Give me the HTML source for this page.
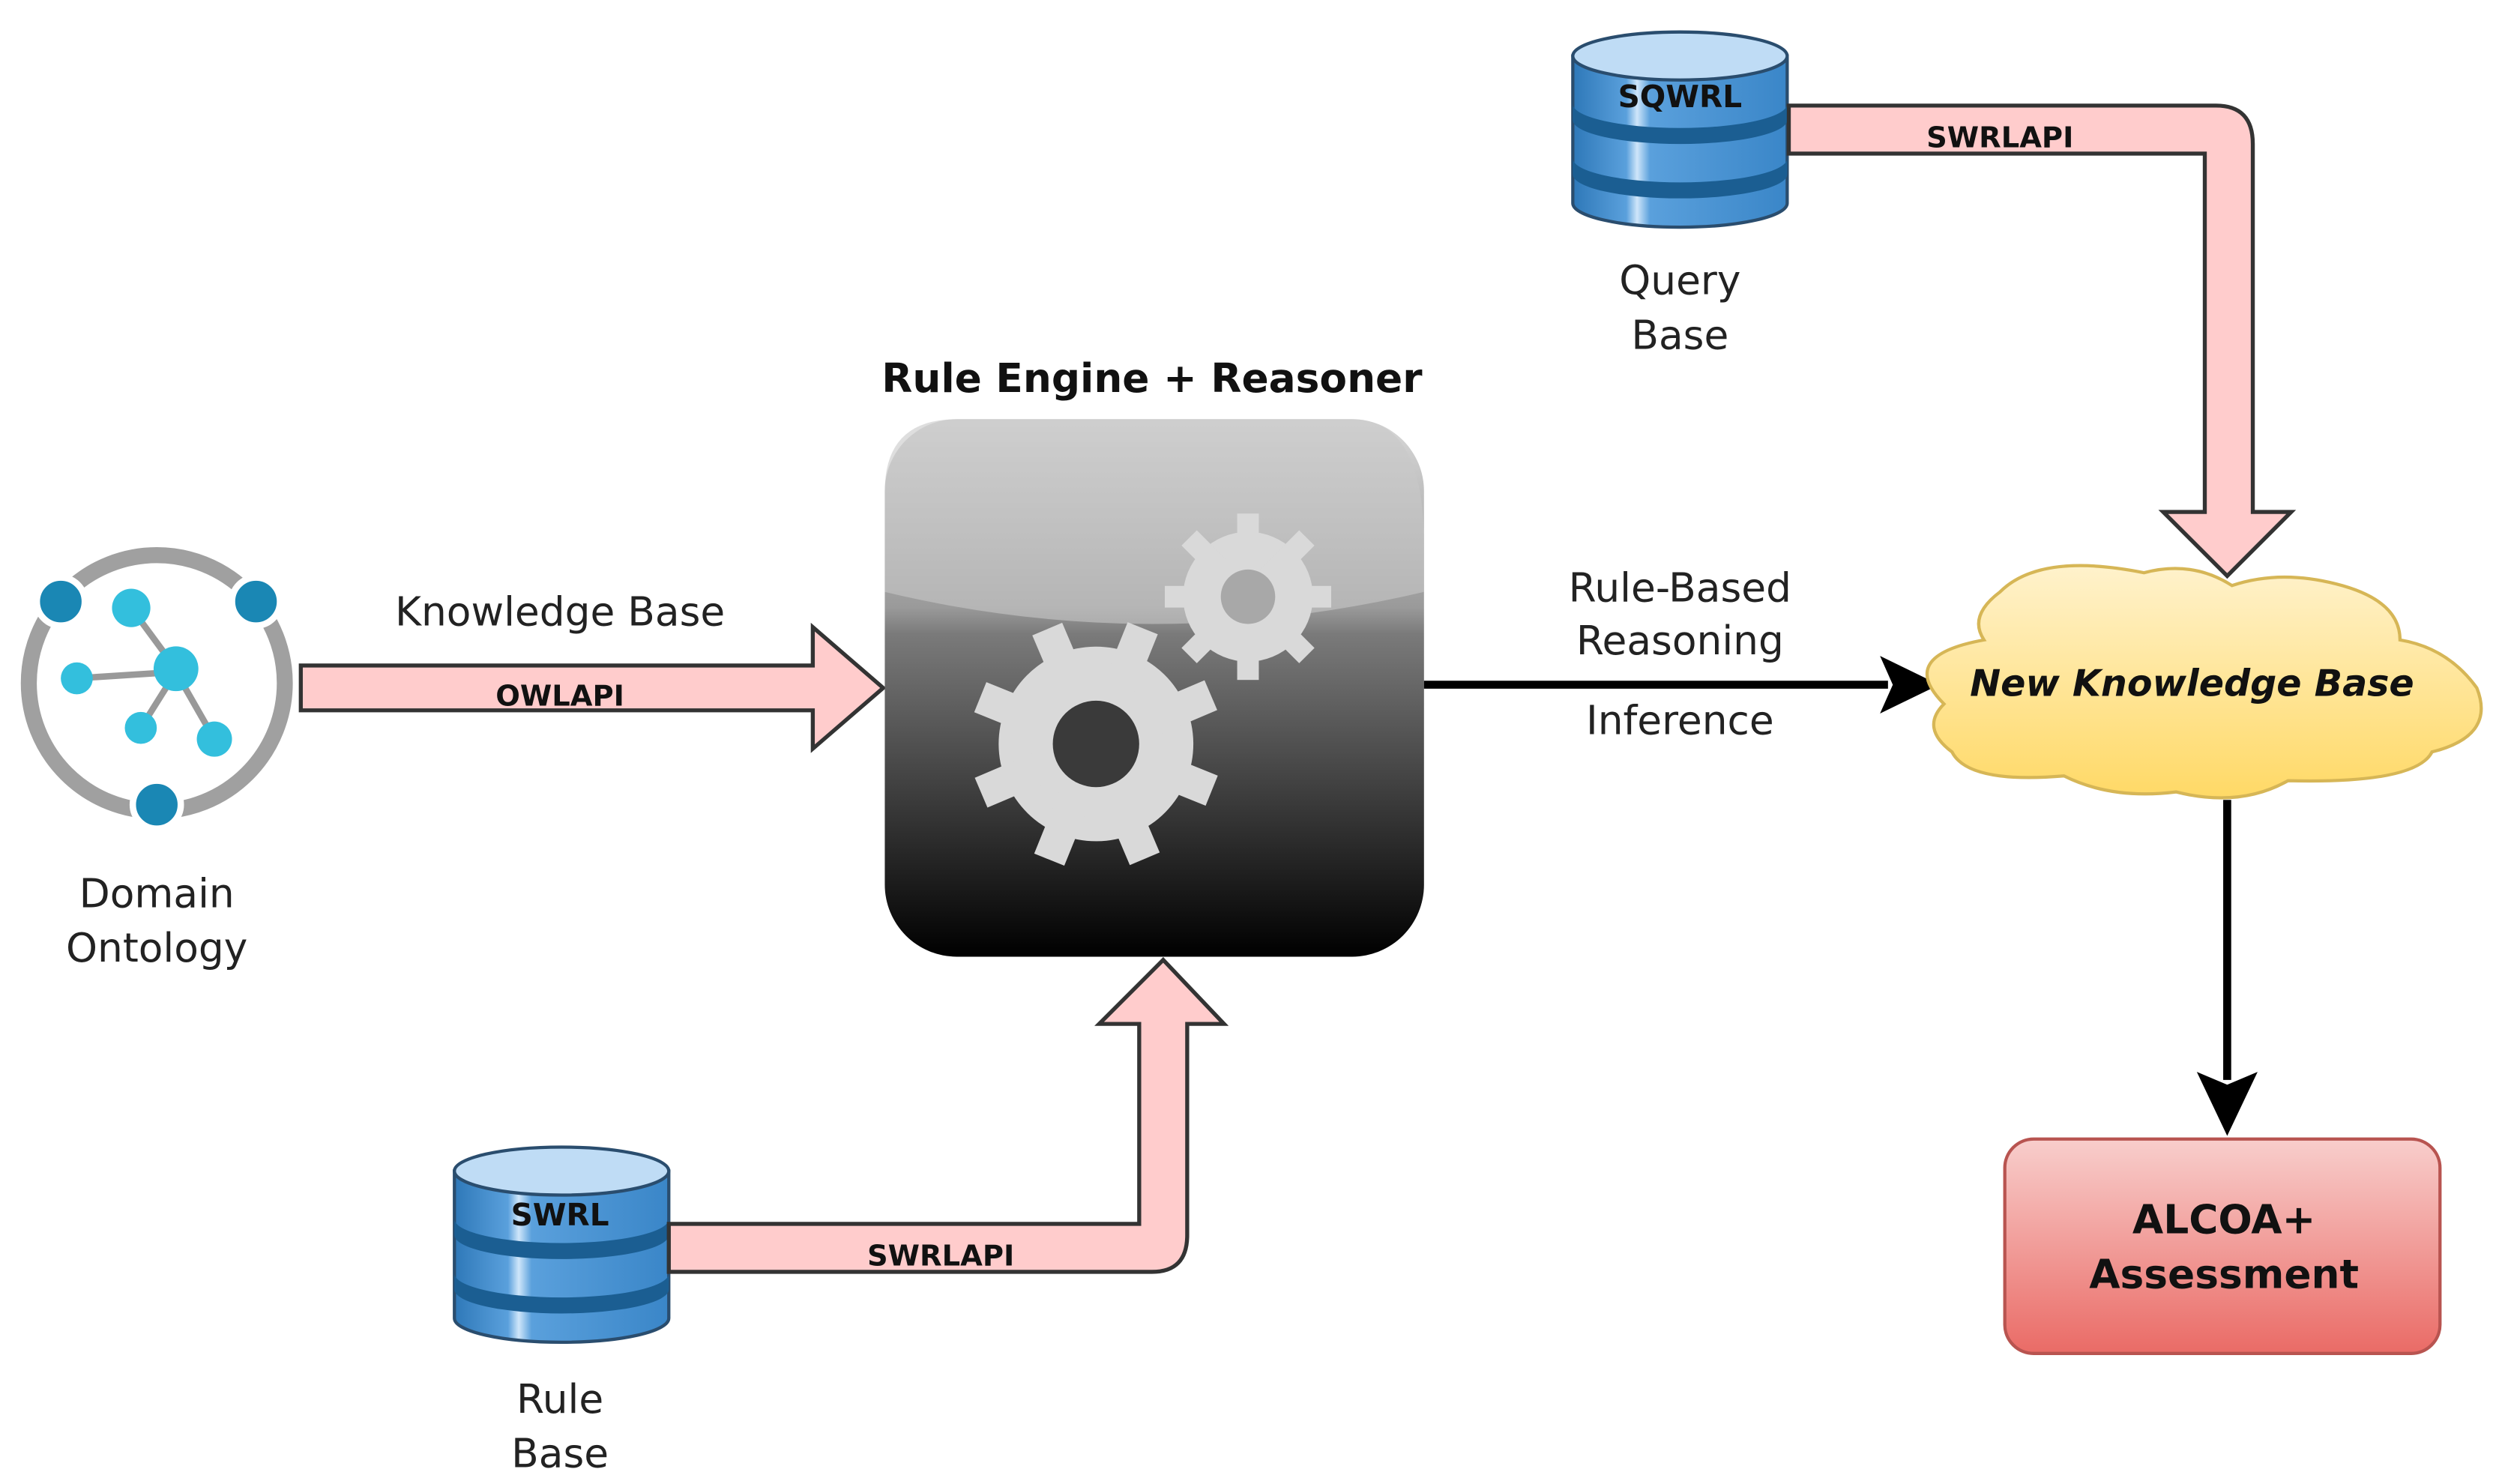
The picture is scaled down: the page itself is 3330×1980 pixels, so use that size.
<!DOCTYPE html>
<html><head><meta charset="utf-8"><style>html,body{margin:0;padding:0;background:#fff}svg{display:block}</style></head><body>
<svg width="3330" height="1980" viewBox="0 0 1560 927.6" preserveAspectRatio="none" xmlns="http://www.w3.org/2000/svg" font-family="'DejaVu Sans','Liberation Sans',sans-serif">
<defs>
<linearGradient id="eng" x1="0" y1="0" x2="0" y2="1"><stop offset="0" stop-color="#d8d8d8"/><stop offset="0.35" stop-color="#9a9a9a"/><stop offset="0.4" stop-color="#7a7a7a"/><stop offset="1" stop-color="#000"/></linearGradient>
<linearGradient id="cl" x1="0" y1="0" x2="0" y2="1"><stop offset="0" stop-color="#fff2cc"/><stop offset="1" stop-color="#ffd966"/></linearGradient>
<linearGradient id="al" x1="0" y1="0" x2="0" y2="1"><stop offset="0" stop-color="#f8cecc"/><stop offset="1" stop-color="#ea6b66"/></linearGradient>
<linearGradient id="db" x1="0" y1="0" x2="1" y2="0"><stop offset="0" stop-color="#2e78b8"/><stop offset="0.25" stop-color="#5aa0dc"/><stop offset="0.3" stop-color="#cfe6fa"/><stop offset="0.36" stop-color="#5aa0dc"/><stop offset="1" stop-color="#3a86c8"/></linearGradient>
<g id="cyl">
<path d="M0,20 v92 a67,15 0 0 0 134,0 v-92 z" fill="url(#db)" stroke="#2a4d6e" stroke-width="2"/>
<path d="M0,50 a67,15 0 0 0 134,0 v10 a67,15 0 0 1 -134,0z" fill="#1b5e92"/>
<path d="M0,84 a67,15 0 0 0 134,0 v10 a67,15 0 0 1 -134,0z" fill="#1b5e92"/>
<ellipse cx="67" cy="20" rx="67" ry="15" fill="#bfdcf5" stroke="#2a4d6e" stroke-width="2"/>
</g>
<g id="gear"><circle r="0.78" fill="#d9d9d9"/>
<g fill="#d9d9d9"><rect x="-0.13" y="-1" width="0.26" height="2"/><rect x="-0.13" y="-1" width="0.26" height="2" transform="rotate(45)"/><rect x="-0.13" y="-1" width="0.26" height="2" transform="rotate(90)"/><rect x="-0.13" y="-1" width="0.26" height="2" transform="rotate(135)"/></g></g>
</defs>
<!-- domain ontology -->
<circle cx="98" cy="427" r="80" fill="none" stroke="#a0a0a0" stroke-width="10"/>
<g stroke="#999" stroke-width="4"><line x1="82" y1="380" x2="110" y2="418"/><line x1="48" y1="424" x2="110" y2="420"/><line x1="110" y1="420" x2="88" y2="455"/><line x1="110" y1="420" x2="134" y2="462"/></g>
<circle cx="38" cy="376" r="15" fill="#1a87b4" stroke="#fff" stroke-width="4"/><circle cx="160" cy="376" r="15" fill="#1a87b4" stroke="#fff" stroke-width="4"/><circle cx="98" cy="503" r="15" fill="#1a87b4" stroke="#fff" stroke-width="4"/>
<circle cx="82" cy="380" r="12" fill="#33bfdd"/><circle cx="110" cy="418" r="14" fill="#33bfdd"/><circle cx="48" cy="424" r="10" fill="#33bfdd"/><circle cx="88" cy="455" r="10" fill="#33bfdd"/><circle cx="134" cy="462" r="11" fill="#33bfdd"/>
<g font-size="25" fill="#222" text-anchor="middle"><text x="98" y="567">Domain</text><text x="98" y="601">Ontology</text>
<text x="350" y="391">Knowledge Base</text>
<text x="1050" y="376">Rule-Based</text><text x="1050" y="409">Reasoning</text><text x="1050" y="459">Inference</text>
<text x="1050" y="184">Query</text><text x="1050" y="218">Base</text>
<text x="350" y="883">Rule</text><text x="350" y="917">Base</text></g>
<!-- OWLAPI arrow -->
<path d="M188,416 H508 V392 L552,430 L508,468 V444 H188 Z" fill="#ffcccc" stroke="#333" stroke-width="2.5"/>
<text x="350" y="441" font-size="18" font-weight="bold" text-anchor="middle" fill="#111">OWLAPI</text>
<!-- engine -->
<text x="720" y="245" font-size="25" font-weight="bold" text-anchor="middle" fill="#111">Rule Engine + Reasoner</text>
<rect x="553" y="262" width="337" height="336" rx="45" fill="url(#eng)"/>
<path d="M553,370 Q720,410 890,370 V340 Q890,262 845,262 H598 Q553,262 553,307Z" fill="#c8c8c8" opacity="0.6"/>
<g transform="translate(780,373) scale(52)"><use href="#gear"/></g><circle cx="780" cy="373" r="17" fill="#a8a8a8"/>
<g transform="translate(685,465) scale(78) rotate(22)"><use href="#gear"/></g><circle cx="685" cy="465" r="27" fill="#3a3a3a"/>
<!-- black arrow -->
<line x1="890" y1="428" x2="1180" y2="428" stroke="#000" stroke-width="5"/>
<path d="M1212,428 L1175,410 L1183,428 L1175,446Z" fill="#000"/>
<!-- cloud -->
<path d="M1250,370 Q1275,345 1340,358 Q1370,350 1395,366 Q1425,356 1460,365 Q1500,375 1500,400 Q1530,405 1548,430 Q1560,460 1520,470 Q1510,490 1430,488 Q1400,505 1360,495 Q1320,500 1290,485 Q1230,490 1220,470 Q1200,455 1215,440 Q1185,410 1240,400 Q1230,385 1250,370Z" fill="url(#cl)" stroke="#d6b656" stroke-width="2"/>
<text x="1370" y="435" font-size="23" font-weight="bold" font-style="italic" text-anchor="middle" fill="#111">New Knowledge Base</text>
<!-- SQWRL -->
<g transform="translate(983,15)"><use href="#cyl"/></g>
<text x="1050" y="67" font-size="19" font-weight="bold" text-anchor="middle" fill="#111">SQWRL</text>
<path d="M1118,66 H1385 Q1408,66 1408,90 V320 H1432 L1392,360 L1352,320 H1378 V96 H1118Z" fill="#ffcccc" stroke="#333" stroke-width="2.5"/>
<text x="1250" y="92" font-size="18" font-weight="bold" text-anchor="middle" fill="#111">SWRLAPI</text>
<!-- down arrow -->
<line x1="1392" y1="500" x2="1392" y2="675" stroke="#000" stroke-width="5"/>
<path d="M1392,710 L1373,670 L1392,678 L1411,670Z" fill="#000"/>
<rect x="1253" y="712" width="272" height="134" rx="18" fill="url(#al)" stroke="#b85450" stroke-width="2"/>
<g font-size="25" font-weight="bold" text-anchor="middle" fill="#111"><text x="1390" y="771">ALCOA+</text><text x="1390" y="805">Assessment</text></g>
<!-- Rule base -->
<g transform="translate(284,712)"><use href="#cyl"/></g>
<text x="350" y="766" font-size="19" font-weight="bold" text-anchor="middle" fill="#111">SWRL</text>
<path d="M418,765 H712 V640 H687 L727,600 L765,640 H742 V772 Q742,795 720,795 H418Z" fill="#ffcccc" stroke="#333" stroke-width="2.5"/>
<text x="588" y="791" font-size="18" font-weight="bold" text-anchor="middle" fill="#111">SWRLAPI</text>
</svg>
</body></html>
